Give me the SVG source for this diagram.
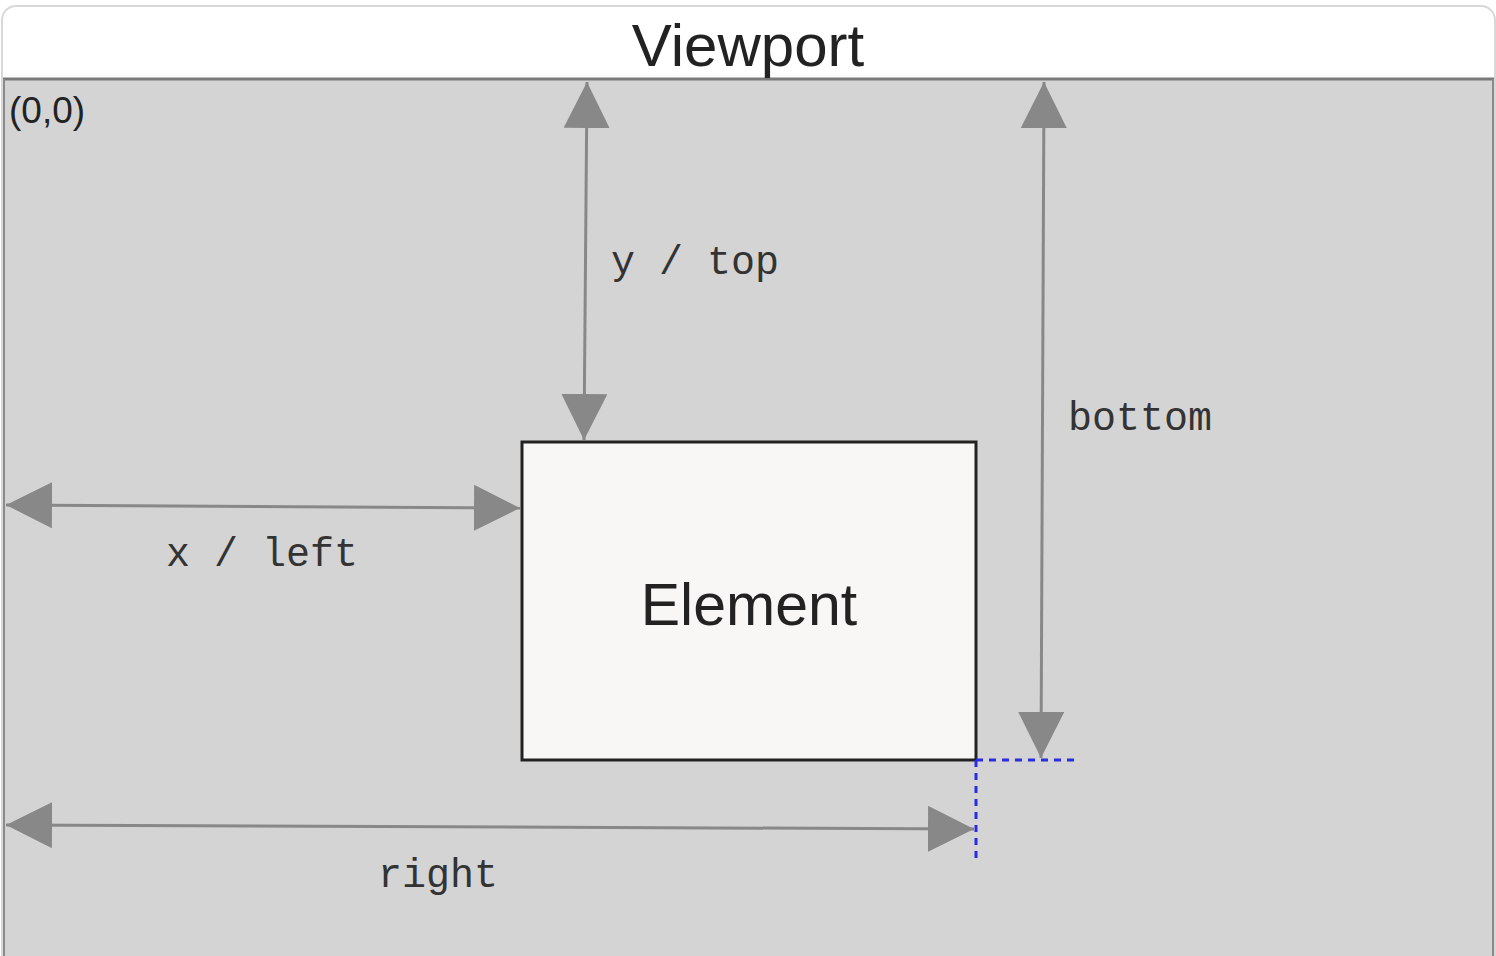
<svg xmlns="http://www.w3.org/2000/svg" width="1496" height="956" viewBox="0 0 1496 956">
  <defs>
    <marker id="head" viewBox="0 0 46 46" refX="46" refY="23" markerWidth="46" markerHeight="46" markerUnits="userSpaceOnUse" orient="auto-start-reverse">
      <path d="M0,0 L46,23 L0,46 Z" fill="#888888"/>
    </marker>
    <clipPath id="frameClip">
      <rect x="2" y="6" width="1493" height="1000" rx="14"/>
    </clipPath>
  </defs>
  <style>
    .mono { font-family: "Liberation Mono", "Courier New", monospace; font-size: 40px; fill: #333333; }
    .sans { font-family: "Liberation Sans", Arial, sans-serif; fill: #222222; }
    .arrow { stroke: #888888; stroke-width: 3; fill: none; marker-start: url(#head); marker-end: url(#head); }
    .guide { stroke: #2b2be6; stroke-width: 3; stroke-dasharray: 7 6; fill: none; }
  </style>
  <rect width="1496" height="956" fill="#ffffff"/>
  <g id="viewport">
    <g clip-path="url(#frameClip)">
      <rect x="2" y="6" width="1493" height="1000" fill="#ffffff"/>
      <rect x="3" y="79" width="1491" height="900" fill="#d4d4d4"/>
    </g>
    <rect x="2" y="6" width="1493" height="1000" rx="14" fill="none" stroke="#d8d8d8" stroke-width="2"/>
    <line x1="3" y1="79" x2="1494" y2="79" stroke="#7a7a7a" stroke-width="3"/>
    <line x1="4" y1="79" x2="4" y2="956" stroke="#8a8a8a" stroke-width="2"/>
    <line x1="1493" y1="79" x2="1493" y2="956" stroke="#8a8a8a" stroke-width="2"/>
    <text class="sans" x="748" y="66" font-size="60" text-anchor="middle">Viewport</text>
    <text class="sans" x="9" y="123" font-size="37">(0,0)</text>
  </g>
  <g id="element">
    <rect x="522" y="442" width="454" height="318" fill="#f9f7f5" stroke="#222222" stroke-width="3"/>
    <text class="sans" x="749" y="625" font-size="59" text-anchor="middle">Element</text>
  </g>
  <g id="connectors">
    <line class="arrow" x1="587" y1="82" x2="584" y2="440"/>
    <line class="arrow" x1="1044" y1="82" x2="1041" y2="758"/>
    <line class="arrow" x1="6" y1="505" x2="520" y2="508"/>
    <line class="arrow" x1="6" y1="825" x2="974" y2="829"/>
    <path class="guide" d="M976,760 L1078,760"/>
    <path class="guide" d="M976,760 L976,862"/>
  </g>
  <g id="labels">
    <text class="mono" x="611" y="274">y / top</text>
    <text class="mono" x="1068" y="430">bottom</text>
    <text class="mono" x="166" y="566">x / left</text>
    <text class="mono" x="378" y="887">right</text>
  </g>
</svg>
